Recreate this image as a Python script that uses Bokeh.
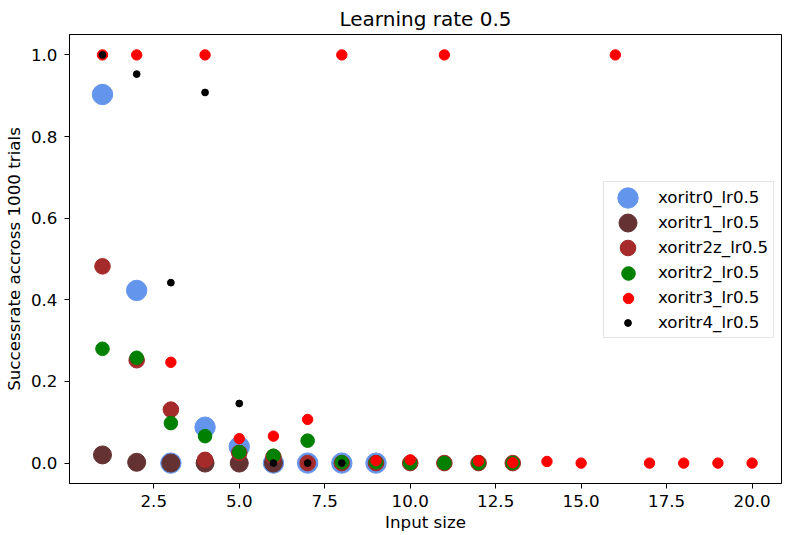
from bokeh.plotting import figure
from bokeh.models import Range1d, FixedTicker, PrintfTickFormatter, Legend, LegendItem
from bokeh.embed import file_html
from bokeh.resources import INLINE

title_text = "Learning rate 0.5"
x_label = "Input size"
y_label = "Successrate accross 1000 trials"

x_ticks = [2.5, 5.0, 7.5, 10.0, 12.5, 15.0, 17.5, 20.0]
y_ticks = [0.0, 0.2, 0.4, 0.6, 0.8, 1.0]

names = ["xoritr0_lr0.5", "xoritr1_lr0.5", "xoritr2z_lr0.5",
         "xoritr2_lr0.5", "xoritr3_lr0.5", "xoritr4_lr0.5"]
colors = ["#6495ED", "#643232", "#A52A2A", "#008000", "#FF0000", "#000000"]
sizes = [20.4, 18.0, 15.6, 13.6, 10.4, 6.8]

x_r0 = [1, 2, 3, 4, 5, 6, 7, 8, 9]
y_r0 = [0.903, 0.423, 0.0, 0.088, 0.04, 0.0, 0.0, 0.0, 0.0]

x_r1 = [1, 2, 3, 4, 5, 6]
y_r1 = [0.02, 0.002, 0.0, 0.0, 0.0, 0.0]

x_r2z = [1, 2, 3, 4, 5, 6, 7, 8, 9, 10, 11, 12, 13]
y_r2z = [0.482, 0.252, 0.131, 0.008, 0.025, 0.015, 0.0, 0.0, 0.0, 0.0, 0.0, 0.0, 0.0]

x_r2 = [1, 2, 3, 4, 5, 6, 7, 8, 9, 10, 11, 12, 13]
y_r2 = [0.28, 0.258, 0.098, 0.066, 0.027, 0.018, 0.055, 0.002, 0.002, 0.0, 0.0, 0.0, 0.0]

x_r3 = [1, 2, 3, 4, 5, 6, 7, 8, 9, 10, 11, 12, 13, 14, 15, 16, 17, 18, 19, 20]
y_r3 = [1.0, 1.0, 0.247, 1.0, 0.06, 0.066, 0.107, 1.0, 0.006, 0.008, 1.0, 0.005,
        0.001, 0.004, 0.0, 1.0, 0.0, 0.0, 0.0, 0.0]

x_r4 = [1, 2, 3, 4, 5, 6, 7, 8]
y_r4 = [1.0, 0.953, 0.442, 0.908, 0.146, 0.0, 0.0, 0.0]

series_x = [x_r0, x_r1, x_r2z, x_r2, x_r3, x_r4]
series_y = [y_r0, y_r1, y_r2z, y_r2, y_r3, y_r4]

FONT = "DejaVu Sans"
FS = "16.7px"

p = figure(width=786, height=535, output_backend="svg", toolbar_location=None,
           x_range=Range1d(0.035, 20.86), y_range=Range1d(-0.05, 1.05),
           min_border_left=68, min_border_right=5, min_border_top=33,
           min_border_bottom=52, title=title_text)

p.title.align = "center"
p.title.text_font = FONT
p.title.text_font_size = "20px"
p.title.text_font_style = "normal"
p.title.text_color = "#000000"
p.title.standoff = 8

p.xaxis.ticker = FixedTicker(ticks=x_ticks)
p.yaxis.ticker = FixedTicker(ticks=y_ticks)
p.xaxis.formatter = PrintfTickFormatter(format="%.1f")
p.yaxis.formatter = PrintfTickFormatter(format="%.1f")
p.xaxis.axis_label = x_label
p.yaxis.axis_label = y_label

for ax in (p.xaxis, p.yaxis):
    ax.major_label_text_font = FONT
    ax.major_label_text_font_size = FS
    ax.major_label_text_color = "#000000"
    ax.axis_label_text_font = FONT
    ax.axis_label_text_font_size = FS
    ax.axis_label_text_font_style = "normal"
    ax.axis_label_text_color = "#000000"
    ax.major_tick_out = 5
    ax.major_tick_in = 0
    ax.minor_tick_line_color = None
    ax.axis_line_color = "#000000"
    ax.major_tick_line_color = "#000000"

p.xaxis.major_label_standoff = 6
p.xaxis.axis_label_standoff = 2
p.yaxis.major_label_standoff = 7
p.yaxis.axis_label_standoff = 4

p.grid.visible = False
p.outline_line_color = "#000000"
p.outline_line_alpha = 1.0
p.outline_line_width = 1

renderers = []
for xs, ys, c, s in zip(series_x, series_y, colors, sizes):
    r = p.scatter(x=xs, y=ys, size=s, fill_color=c, line_color=c, line_width=1)
    renderers.append(r)

# legend box with labels; the per-series marker sizes are drawn by overlay legends
LEG_X, LEG_Y = 534, 145.5
PAD, GW, ROW, SP = 5, 39, 20, 5
dummy = p.scatter(x=[], y=[], size=1, fill_alpha=0, line_alpha=0)
main_items = [LegendItem(label=n, renderers=[dummy]) for n in names]
main_leg = Legend(items=main_items, location=(LEG_X, LEG_Y), orientation="vertical",
                  padding=PAD, margin=0, spacing=SP, glyph_width=GW, glyph_height=ROW,
                  label_height=ROW, label_standoff=10,
                  label_text_font=FONT, label_text_font_size=FS,
                  label_text_color="#000000",
                  border_line_color="#cccccc", border_line_width=1,
                  background_fill_color="#ffffff", background_fill_alpha=0.8)
p.add_layout(main_leg)

n_rows = len(names)
glyph_cx = LEG_X + PAD + GW / 2.0
row0_cy = LEG_Y + PAD + n_rows * ROW + (n_rows - 1) * SP - ROW / 2.0
for i, (r, s) in enumerate(zip(renderers, sizes)):
    gh = int(round(s / 0.4))
    cy = row0_cy - i * (ROW + SP)
    leg = Legend(items=[LegendItem(label=" ", renderers=[r])],
                 location=(glyph_cx - gh / 2.0, cy - gh / 2.0),
                 padding=0, margin=0, spacing=0, glyph_width=gh, glyph_height=gh,
                 label_width=0, label_height=0, label_standoff=0,
                 label_text_font_size="1px",
                 background_fill_alpha=0, border_line_alpha=0)
    p.add_layout(leg)

open("out.html", "w").write(file_html(p, INLINE))
